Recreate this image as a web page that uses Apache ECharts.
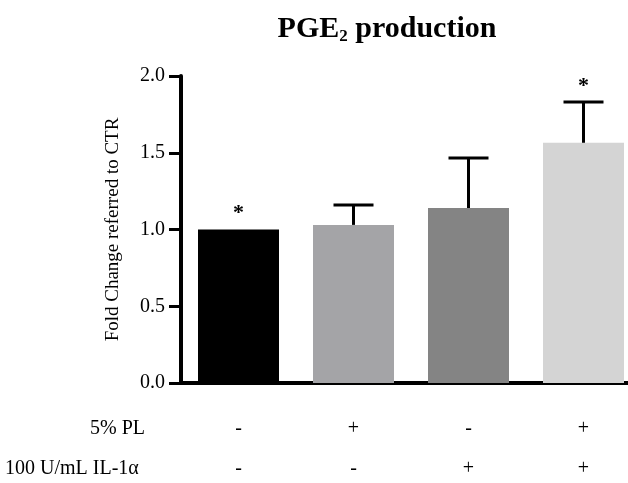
<!DOCTYPE html>
<html>
<head>
<meta charset="utf-8">
<script src="https://cdn.jsdelivr.net/npm/echarts@6/dist/echarts.min.js"></script>
<style>html,body{margin:0;padding:0;background:#fff;}#c{width:628px;height:483px;}</style>
</head>
<body>
<div id="c"></div>
<script>
var groups = ['CTR', 'PL', 'IL', 'PL+IL'];
var means = [1.0, 1.03, 1.14, 1.565];
var upper = [null, 1.16, 1.465, 1.83];
var stars = ['*', '', '', '*'];
var plRow = ['-', '+', '-', '+'];
var ilRow = ['-', '-', '+', '+'];
var barColors = ['#000000', '#a4a4a7', '#848484', '#d4d4d4'];
var yTicks = [0, 0.5, 1.0, 1.5, 2.0];

var serif = '"Liberation Serif", "DejaVu Serif", serif';
var chart = echarts.init(document.getElementById('c'));
chart.setOption({
  animation: false,
  title: {
    text: 'PGE{sub|2} production',
    left: 382, top: 8, textAlign: 'center',
    textStyle: {
      fontFamily: serif, fontWeight: 'bold', fontSize: 30, color: '#000',
      rich: { sub: { fontFamily: serif, fontWeight: 'bold', fontSize: 17, color: '#000', verticalAlign: 'bottom', padding: [15, 0, 0, 0] } }
    }
  },
  grid: { left: 181, top: 76, bottom: 100, width: 460, outerBoundsMode: 'none', containLabel: false },
  xAxis: {
    type: 'category', data: groups,
    axisLine: { lineStyle: { color: '#000', width: 4 } },
    axisTick: { show: false },
    axisLabel: {
      margin: 26, fontFamily: serif, fontSize: 20, color: '#000', lineHeight: 40,
      formatter: function (v, i) { return plRow[i] + '\n' + ilRow[i]; }
    }
  },
  yAxis: {
    type: 'value', min: yTicks[0], max: yTicks[yTicks.length - 1], interval: 0.5,
    name: 'Fold Change referred to CTR', nameLocation: 'middle', nameGap: 58, nameRotate: 90,
    nameTextStyle: { fontFamily: serif, fontSize: 19, color: '#000' },
    splitLine: { show: false },
    axisLine: { show: true, lineStyle: { color: '#000', width: 4 } },
    axisTick: { show: true, length: 12, lineStyle: { color: '#000', width: 3 } },
    axisLabel: { margin: 16, fontFamily: serif, fontSize: 20, color: '#000',
      formatter: function (v) { return v.toFixed(1); } }
  },
  series: [
    {
      type: 'bar', data: means.map(function (m, i) { return { value: m, itemStyle: { color: barColors[i] } }; }),
      barWidth: 81, z: 2
    },
    {
      type: 'custom', z: 3,
      data: means.map(function (m, i) { return [i, m, upper[i] == null ? m : upper[i]]; }),
      renderItem: function (params, api) {
        var i = api.value(0);
        var base = api.coord([i, api.value(1)]);
        var top = api.coord([i, api.value(2)]);
        var half = 20;
        var children = [];
        if (upper[i] != null) {
          children.push({ type: 'line', shape: { x1: base[0], y1: base[1], x2: top[0], y2: top[1] }, style: { stroke: '#000', lineWidth: 3 } });
          children.push({ type: 'line', shape: { x1: top[0] - half, y1: top[1], x2: top[0] + half, y2: top[1] }, style: { stroke: '#000', lineWidth: 3 } });
        }
        if (stars[i]) {
          children.push({ type: 'text', x: top[0], y: top[1] - 16, style: { text: stars[i], fontFamily: serif, fontSize: 22, fontWeight: 'bold', fill: '#000', align: 'center', verticalAlign: 'middle' } });
        }
        return { type: 'group', children: children };
      }
    }
  ],
  graphic: [
    { type: 'text', right: 628 - 145, top: 419, style: { text: '5% PL', fontFamily: serif, fontSize: 20, fill: '#000' } },
    { type: 'text', left: 5, top: 459, style: { text: '100 U/mL IL-1\u03b1', fontFamily: serif, fontSize: 20, fill: '#000' } }
  ]
});
</script>
</body>
</html>
